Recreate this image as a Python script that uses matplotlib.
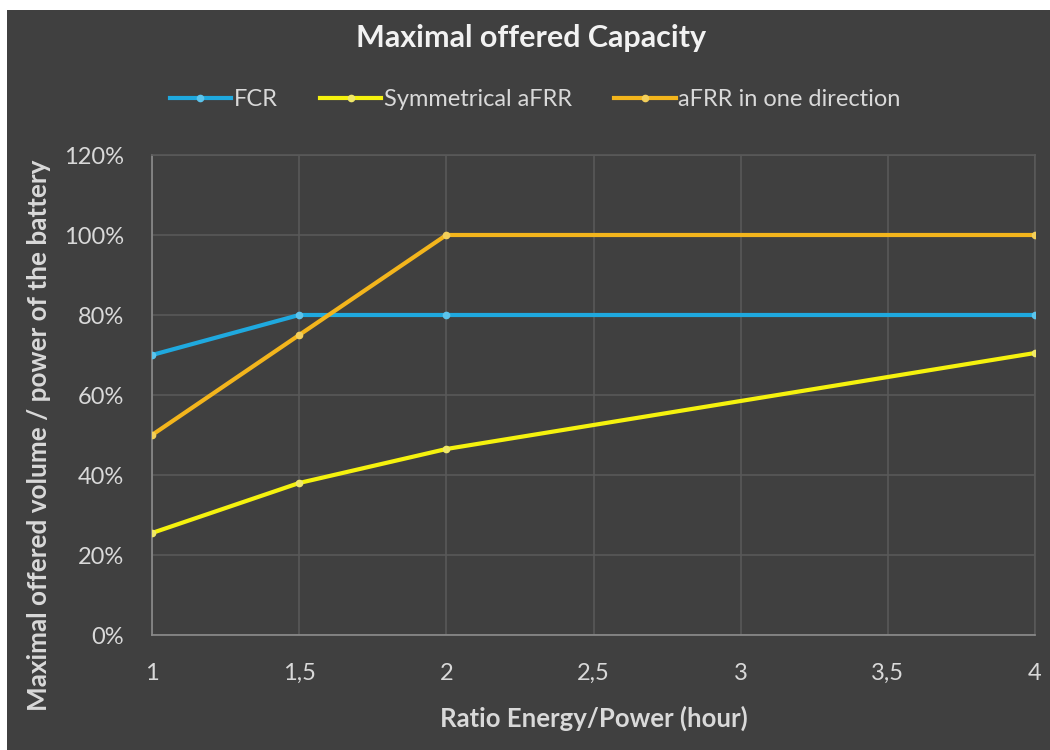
import matplotlib.pyplot as plt
from matplotlib.patches import Rectangle

plt.rcParams['font.family'] = ['Lato', 'DejaVu Sans']

ratio = [1, 1.5, 2, 4]
fcr = [70, 80, 80, 80]
sym_afrr = [25.5, 38, 46.5, 70.5]
afrr_one_dir = [50, 75, 100, 100]

x_ticks = [1, 1.5, 2, 2.5, 3, 3.5, 4]
x_tick_labels = ["1", "1,5", "2", "2,5", "3", "3,5", "4"]
y_ticks = [0, 20, 40, 60, 80, 100, 120]
y_tick_labels = ["0%", "20%", "40%", "60%", "80%", "100%", "120%"]

bg = '#404040'
txt = '#d9d9d9'
grid_c = '#595959'

fig = plt.figure(figsize=(10.5, 7.5), dpi=100, facecolor='white')
fig.patches.append(Rectangle((7 / 1050, 0), 1, 1 - 10 / 750, transform=fig.transFigure,
                             facecolor=bg, edgecolor='none', zorder=-10))
ax = fig.add_axes([152 / 1050, 1 - 635 / 750, 883 / 1050, 480 / 750])
ax.set_facecolor(bg)

ax.plot(ratio, fcr, color='#1fa9df', lw=3, marker='o', ms=4.5,
        mfc='#5cc4ec', mec='#5cc4ec', label="FCR", zorder=3)
ax.plot(ratio, sym_afrr, color='#f5f20e', lw=3, marker='o', ms=4.5,
        mfc='#f0e868', mec='#f0e868', label="Symmetrical aFRR", zorder=3)
ax.plot(ratio, afrr_one_dir, color='#f3b51c', lw=3, marker='o', ms=4.5,
        mfc='#f3cf5a', mec='#f3cf5a', label="aFRR in one direction", zorder=4)

ax.set_xlim(1, 4)
ax.set_ylim(0, 120)
ax.set_xticks(x_ticks)
ax.set_xticklabels(x_tick_labels)
ax.set_yticks(y_ticks)
ax.set_yticklabels(y_tick_labels)
ax.grid(True, color=grid_c, lw=1.2)
ax.set_axisbelow(True)
ax.tick_params(length=0, colors=txt, labelsize=17)
ax.tick_params(axis='x', pad=20)
ax.tick_params(axis='y', pad=20)
for side in ['top', 'right']:
    ax.spines[side].set_color(grid_c)
    ax.spines[side].set_linewidth(1.2)
for side in ['left', 'bottom']:
    ax.spines[side].set_color('#8c8c8c')
    ax.spines[side].set_linewidth(1.2)

ax.set_xlabel("Ratio Energy/Power (hour)", color=txt, fontsize=18.5,
              fontweight='bold', labelpad=16)
ax.set_ylabel("Maximal offered volume / power of the battery", color=txt,
              fontsize=18.8, fontweight='bold')
# label sits a little below the plot centre, as in the original layout
ax.yaxis.set_label_coords(-0.114, 0.415)

fig.text(0.506, 1 - 38 / 750, "Maximal offered Capacity", color='#f2f2f2',
         fontsize=22, fontweight='bold', ha='center', va='center')
leg = ax.legend(loc='center', bbox_to_anchor=(535 / 1050, 1 - 100 / 750),
                bbox_transform=fig.transFigure, ncol=3, frameon=False,
                fontsize=17, handlelength=2.6, handletextpad=0.1,
                columnspacing=1.8, labelcolor=txt)

fig.savefig("out.png", dpi=100, facecolor=fig.get_facecolor())
